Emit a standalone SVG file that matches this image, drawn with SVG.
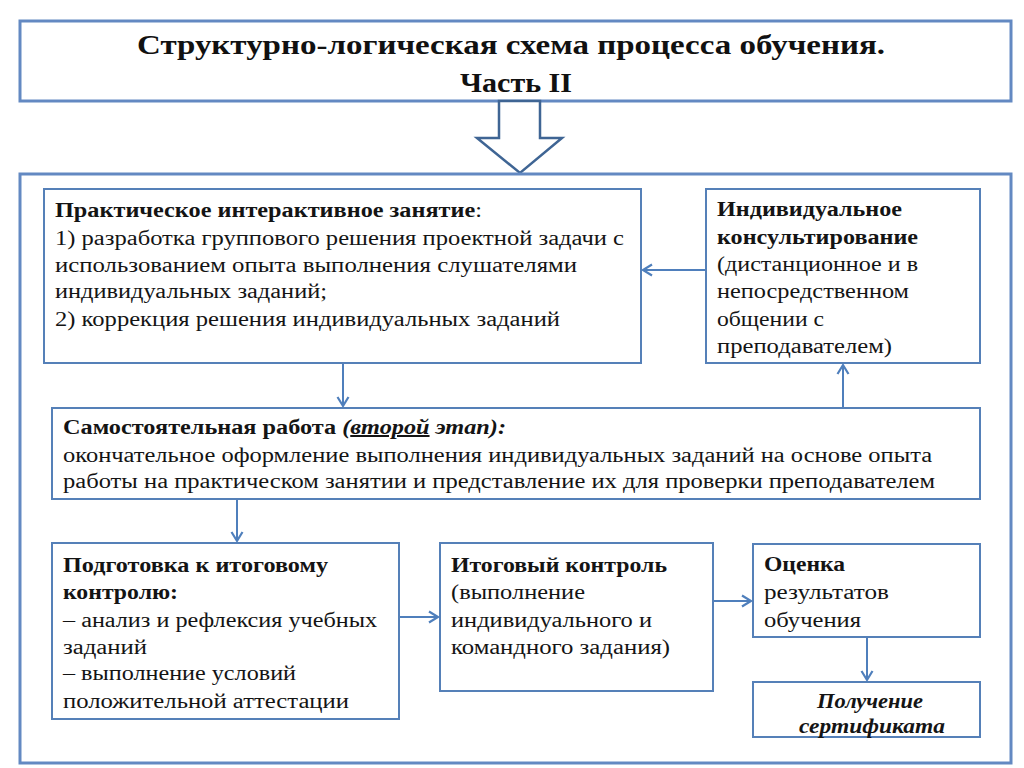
<svg xmlns="http://www.w3.org/2000/svg" width="1024" height="768" viewBox="0 0 1024 768">
<defs>
<marker id="ah" markerUnits="userSpaceOnUse" markerWidth="14" markerHeight="14" refX="11" refY="7" orient="auto">
<path d="M2,1.5 L11,7 L2,12.5" fill="none" stroke="#4f7fbc" stroke-width="2.2"/>
</marker>
<style>
.frame{fill:#fff;stroke:#6389c2;stroke-width:3}
.box{fill:#fff;stroke:#5580b8;stroke-width:2}
.t{font-family:"Liberation Serif","DejaVu Serif",serif;font-size:20px;fill:#141414}
.b{font-weight:bold}
.i{font-style:italic}
.u{text-decoration:underline}
.title{font-family:"Liberation Serif","DejaVu Serif",serif;font-size:27px;font-weight:bold;fill:#111}
.conn{fill:none;stroke:#4f7fbc;stroke-width:2;marker-end:url(#ah)}
</style>
</defs>
<rect width="1024" height="768" fill="#fff"/>
<g id="title">
<rect class="frame" x="20" y="21" width="991" height="80"/>
<text class="title" x="137" y="54" textLength="748" lengthAdjust="spacingAndGlyphs">Структурно-логическая схема процесса обучения.</text>
<text class="title" x="460" y="92" textLength="112" lengthAdjust="spacingAndGlyphs">Часть II</text>
</g>
<g id="big-arrow">
<path d="M499,101 L540,101 L540,138 L562,138 L520,173 L477,138 L499,138 Z" fill="#fff" stroke="#3f6594" stroke-width="2.5" stroke-linejoin="miter"/>
</g>
<g id="container">
<rect class="frame" x="20" y="174" width="991" height="589"/>
</g>
<g id="practical">
<rect class="box" x="44" y="189" width="597" height="174"/>
<text class="t" x="55" y="217" textLength="427" lengthAdjust="spacingAndGlyphs"><tspan class="b">Практическое интерактивное занятие</tspan>:</text>
<text class="t" x="55" y="245" textLength="569" lengthAdjust="spacingAndGlyphs">1) разработка группового решения проектной задачи с</text>
<text class="t" x="55" y="272" textLength="522" lengthAdjust="spacingAndGlyphs">использованием опыта выполнения  слушателями</text>
<text class="t" x="55" y="298" textLength="272" lengthAdjust="spacingAndGlyphs">индивидуальных заданий;</text>
<text class="t" x="55" y="326" textLength="505" lengthAdjust="spacingAndGlyphs">2) коррекция решения индивидуальных заданий</text>
</g>
<g id="consult">
<rect class="box" x="706" y="189" width="274" height="174"/>
<text class="t b" x="717" y="216" textLength="185" lengthAdjust="spacingAndGlyphs">Индивидуальное</text>
<text class="t b" x="717" y="244" textLength="201" lengthAdjust="spacingAndGlyphs">консультирование</text>
<text class="t" x="717" y="271" textLength="201" lengthAdjust="spacingAndGlyphs">(дистанционное и в</text>
<text class="t" x="717" y="298" textLength="192" lengthAdjust="spacingAndGlyphs">непосредственном</text>
<text class="t" x="717" y="326" textLength="107" lengthAdjust="spacingAndGlyphs">общении с</text>
<text class="t" x="717" y="353" textLength="175" lengthAdjust="spacingAndGlyphs">преподавателем)</text>
</g>
<g id="selfwork">
<rect class="box" x="52" y="408" width="928" height="91"/>
<text class="t b" x="63" y="434" textLength="443" lengthAdjust="spacingAndGlyphs">Самостоятельная работа <tspan class="i">(<tspan class="u">второй</tspan> этап):</tspan></text>
<text class="t" x="63" y="462" textLength="869" lengthAdjust="spacingAndGlyphs">окончательное оформление выполнения индивидуальных заданий на основе опыта</text>
<text class="t" x="63" y="488" textLength="872" lengthAdjust="spacingAndGlyphs">работы на практическом занятии и представление их для проверки преподавателем</text>
</g>
<g id="prep">
<rect class="box" x="52" y="543" width="347" height="176"/>
<text class="t b" x="63" y="572" textLength="265" lengthAdjust="spacingAndGlyphs">Подготовка к итоговому</text>
<text class="t b" x="63" y="599" textLength="115" lengthAdjust="spacingAndGlyphs">контролю:</text>
<text class="t" x="63" y="627" textLength="314" lengthAdjust="spacingAndGlyphs">– анализ и рефлексия учебных</text>
<text class="t" x="63" y="654" textLength="84" lengthAdjust="spacingAndGlyphs">заданий</text>
<text class="t" x="63" y="680" textLength="233" lengthAdjust="spacingAndGlyphs">– выполнение условий</text>
<text class="t" x="63" y="708" textLength="286" lengthAdjust="spacingAndGlyphs">положительной аттестации</text>
</g>
<g id="final-control">
<rect class="box" x="440" y="543" width="273" height="148"/>
<text class="t b" x="451" y="572" textLength="216" lengthAdjust="spacingAndGlyphs">Итоговый контроль</text>
<text class="t" x="451" y="599" textLength="134" lengthAdjust="spacingAndGlyphs">(выполнение</text>
<text class="t" x="451" y="627" textLength="201" lengthAdjust="spacingAndGlyphs">индивидуального и</text>
<text class="t" x="451" y="654" textLength="219" lengthAdjust="spacingAndGlyphs">командного задания)</text>
</g>
<g id="assessment">
<rect class="box" x="753" y="544" width="227" height="93"/>
<text class="t b" x="764" y="571" textLength="81" lengthAdjust="spacingAndGlyphs">Оценка</text>
<text class="t" x="764" y="599" textLength="125" lengthAdjust="spacingAndGlyphs">результатов</text>
<text class="t" x="764" y="627" textLength="97" lengthAdjust="spacingAndGlyphs">обучения</text>
</g>
<g id="certificate">
<rect class="box" x="753" y="682" width="227" height="55"/>
<text class="t b i" x="817" y="708" textLength="106" lengthAdjust="spacingAndGlyphs">Получение</text>
<text class="t b i" x="799" y="733" textLength="146" lengthAdjust="spacingAndGlyphs">сертификата</text>
</g>
<g id="connectors">
<line class="conn" x1="343" y1="364" x2="343" y2="406"/>
<line class="conn" x1="705" y1="270" x2="643" y2="270"/>
<line class="conn" x1="843" y1="407" x2="843" y2="365"/>
<line class="conn" x1="237" y1="500" x2="237" y2="541"/>
<line class="conn" x1="400" y1="617" x2="438" y2="617"/>
<line class="conn" x1="714" y1="601" x2="751" y2="601"/>
<line class="conn" x1="867" y1="638" x2="867" y2="680"/>
</g>
</svg>
